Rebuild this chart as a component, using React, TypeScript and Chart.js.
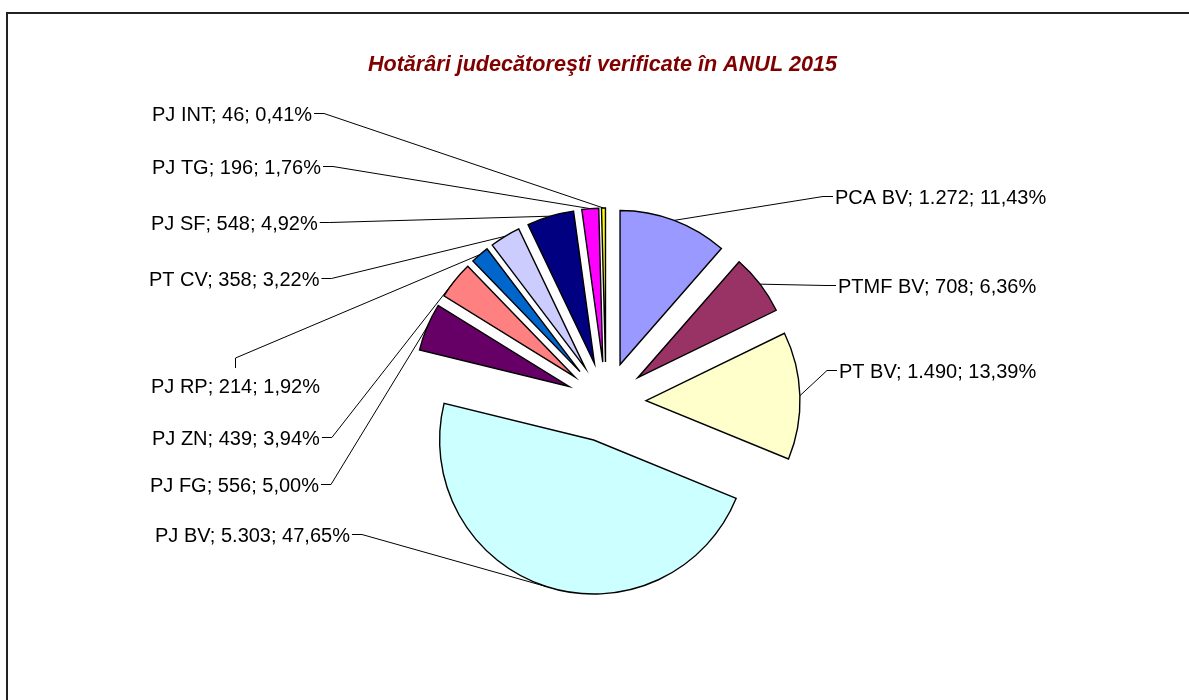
import React, { useEffect, useRef } from "react";
import { Chart, registerables } from "chart.js";

Chart.register(...registerables);

const TITLE = "Hotărâri judecătoreşti verificate în ANUL 2015";

const categories = [
  "PCA BV",
  "PTMF BV",
  "PT BV",
  "PJ BV",
  "PJ FG",
  "PJ ZN",
  "PJ RP",
  "PT CV",
  "PJ SF",
  "PJ TG",
  "PJ INT",
];

const values = [1272, 708, 1490, 5303, 556, 439, 214, 358, 548, 196, 46];

const sliceColors = [
  "#9999FF",
  "#993366",
  "#FFFFCC",
  "#CCFFFF",
  "#660066",
  "#FF8080",
  "#0066CC",
  "#CCCCFF",
  "#000080",
  "#FF00FF",
  "#FFFF00",
];

// Layout of the data labels (text start x, baseline y, where the leader leaves the text)
const labelLayout = [
  { x: 835, y: 204, anchor: "left" },
  { x: 838, y: 293, anchor: "left" },
  { x: 839, y: 378, anchor: "left" },
  { x: 155, y: 542, anchor: "right" },
  { x: 150, y: 492, anchor: "right" },
  { x: 152, y: 445, anchor: "right" },
  { x: 151, y: 393, anchor: "top" },
  { x: 149, y: 286, anchor: "right" },
  { x: 151, y: 230, anchor: "right" },
  { x: 152, y: 174, anchor: "right" },
  { x: 152, y: 121, anchor: "right" },
];

const EXPLODE = 40;
const RADIUS = 154;
const FONT = '"Liberation Sans", Arial, sans-serif';

const total = values.reduce((a, b) => a + b, 0);
const fmtThousands = (v: number) => String(v).replace(/\B(?=(\d{3})+(?!\d))/g, ".");
const fmtPct = (v: number) => ((v / total) * 100).toFixed(2).replace(".", ",") + "%";

const framePlugin = {
  id: "frame",
  beforeDraw(chart: any) {
    const ctx = chart.ctx;
    ctx.save();
    ctx.fillStyle = "#ffffff";
    ctx.fillRect(0, 0, chart.width, chart.height);
    ctx.strokeStyle = "#222222";
    ctx.lineWidth = 2;
    ctx.strokeRect(7, 13, chart.width + 50, chart.height + 50);
    ctx.restore();
  },
};

const explodePlugin = {
  id: "explode",
  beforeDatasetDraw(chart: any, args: any) {
    const ctx = chart.ctx;
    const meta = chart.getDatasetMeta(args.index);
    meta.data.forEach((arc: any) => {
      const mid = (arc.startAngle + arc.endAngle) / 2;
      ctx.save();
      ctx.translate(Math.cos(mid) * EXPLODE, Math.sin(mid) * EXPLODE);
      arc.draw(ctx);
      ctx.restore();
    });
    return false;
  },
};

const labelPlugin = {
  id: "labels",
  afterDraw(chart: any) {
    const ctx = chart.ctx;
    const meta = chart.getDatasetMeta(0);
    ctx.save();
    // title
    ctx.font = `italic bold 21.6px ${FONT}`;
    ctx.fillStyle = "#800000";
    ctx.textAlign = "center";
    ctx.textBaseline = "alphabetic";
    ctx.fillText(TITLE, 602.5, 71);

    ctx.font = `20px ${FONT}`;
    ctx.textAlign = "left";
    meta.data.forEach((arc: any, i: number) => {
      const text = `${categories[i]}; ${fmtThousands(values[i])}; ${fmtPct(values[i])}`;
      const lay = labelLayout[i];
      const w = ctx.measureText(text).width;
      ctx.fillStyle = "#000000";
      ctx.fillText(text, lay.x, lay.y);

      const mid = (arc.startAngle + arc.endAngle) / 2;
      const px = arc.x + Math.cos(mid) * (EXPLODE + arc.outerRadius);
      const py = arc.y + Math.sin(mid) * (EXPLODE + arc.outerRadius);
      const cy = lay.y - 7.5;
      ctx.strokeStyle = "#000000";
      ctx.lineWidth = 1;
      ctx.beginPath();
      if (lay.anchor === "left") {
        ctx.moveTo(lay.x - 2, cy);
        ctx.lineTo(lay.x - 12, cy);
      } else if (lay.anchor === "right") {
        ctx.moveTo(lay.x + w + 2, cy);
        ctx.lineTo(lay.x + w + 12, cy);
      } else {
        const cx = Math.round(lay.x + w / 2) + 0.5;
        ctx.moveTo(cx, lay.y - 25);
        ctx.lineTo(cx, lay.y - 35);
      }
      ctx.lineTo(px, py);
      ctx.stroke();
    });
    ctx.restore();
  },
};

export default function App() {
  const ref = useRef<HTMLCanvasElement | null>(null);
  useEffect(() => {
    if (!ref.current) return;
    const chart = new Chart(ref.current, {
      type: "pie",
      data: {
        labels: categories,
        datasets: [
          {
            data: values,
            backgroundColor: sliceColors,
            borderColor: "#000000",
            borderWidth: 1.4,
            borderJoinStyle: "miter",
            offset: 0,
            radius: RADIUS,
            clip: false,
          } as any,
        ],
      },
      options: {
        responsive: false,
        animation: false,
        events: [],
        layout: { padding: { left: 306, right: 283, top: 104, bottom: 0 } },
        plugins: {
          legend: { display: false },
          tooltip: { enabled: false },
          title: { display: false },
        },
      } as any,
      plugins: [framePlugin, explodePlugin, labelPlugin],
    });
    return () => chart.destroy();
  }, []);
  return (
    <div style={{ position: "fixed", left: 0, top: 0, width: 1189, height: 700 }}>
      <canvas ref={ref} width={1189} height={700} style={{ width: 1189, height: 700, display: "block" }} />
    </div>
  );
}
